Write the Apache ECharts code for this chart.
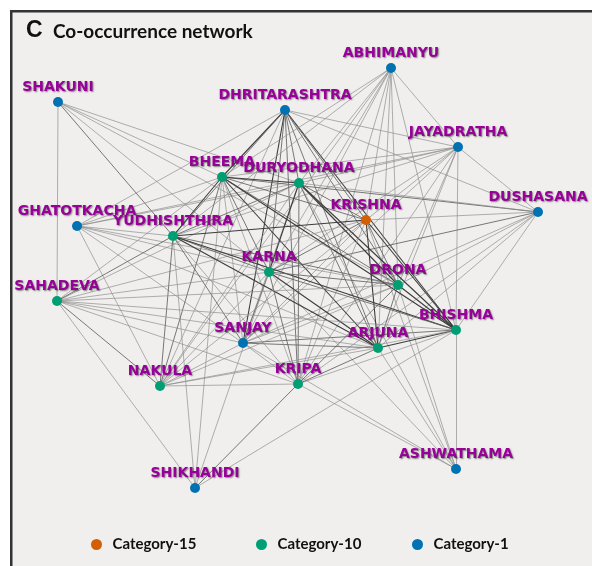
<!DOCTYPE html>
<html>
<head>
<meta charset="utf-8">
<script src="https://cdn.jsdelivr.net/npm/echarts@6/dist/echarts.min.js"></script>
<style>html,body{margin:0;padding:0;background:#fff}#c{width:592px;height:566px}</style>
</head>
<body>
<div id="c"></div>
<script>
// ---- data ----
const categoryNames = ['Category-15', 'Category-10', 'Category-1'];
const categoryColors = ['#d55e00', '#009e73', '#0072b2'];

const nodeNames = ['SHAKUNI','DHRITARASHTRA','ABHIMANYU','JAYADRATHA','DUSHASANA','BHEEMA','DURYODHANA','KRISHNA','GHATOTKACHA','YUDHISHTHIRA','KARNA','DRONA','SAHADEVA','BHISHMA','SANJAY','ARJUNA','NAKULA','KRIPA','ASHWATHAMA','SHIKHANDI'];
const nodeX = [58, 285, 391, 458, 538, 222, 299, 366, 77, 173, 269, 398, 57, 456, 243, 378, 160, 298, 456, 195];
const nodeY = [102, 110, 68, 147, 212, 177, 183, 220, 226, 236, 272, 285, 301, 330, 343, 348, 386, 384, 469, 488];
const nodeCategory = [2, 2, 2, 2, 2, 1, 1, 0, 2, 1, 1, 1, 1, 1, 2, 1, 1, 1, 2, 2];

// [source, target, weight]
const links = [
  ['SHAKUNI','SAHADEVA',1],['SHAKUNI','BHEEMA',1],['SHAKUNI','DURYODHANA',1],['SHAKUNI','YUDHISHTHIRA',2],['SHAKUNI','KARNA',1],['SHAKUNI','DRONA',1],
  ['DHRITARASHTRA','BHEEMA',3],['DHRITARASHTRA','DURYODHANA',2],['DHRITARASHTRA','YUDHISHTHIRA',2],['DHRITARASHTRA','KARNA',2],['DHRITARASHTRA','SANJAY',3],['DHRITARASHTRA','DRONA',2],['DHRITARASHTRA','BHISHMA',3],['DHRITARASHTRA','ARJUNA',2],['DHRITARASHTRA','KRISHNA',2],['DHRITARASHTRA','KRIPA',2],['DHRITARASHTRA','NAKULA',1],['DHRITARASHTRA','GHATOTKACHA',1],['DHRITARASHTRA','JAYADRATHA',1],['DHRITARASHTRA','DUSHASANA',1],
  ['ABHIMANYU','JAYADRATHA',1],['ABHIMANYU','BHEEMA',1],['ABHIMANYU','YUDHISHTHIRA',1],['ABHIMANYU','DURYODHANA',1],['ABHIMANYU','KARNA',1],['ABHIMANYU','SANJAY',1],['ABHIMANYU','ARJUNA',1],['ABHIMANYU','DRONA',1],['ABHIMANYU','KRIPA',1],['ABHIMANYU','KRISHNA',1],['ABHIMANYU','BHISHMA',1],['ABHIMANYU','NAKULA',1],
  ['JAYADRATHA','DUSHASANA',1],['JAYADRATHA','BHISHMA',1],['JAYADRATHA','BHEEMA',1],['JAYADRATHA','YUDHISHTHIRA',1],['JAYADRATHA','DURYODHANA',1],['JAYADRATHA','GHATOTKACHA',1],['JAYADRATHA','KARNA',1],['JAYADRATHA','DRONA',1],['JAYADRATHA','ARJUNA',1],['JAYADRATHA','KRIPA',1],['JAYADRATHA','SANJAY',1],['JAYADRATHA','KRISHNA',1],
  ['DUSHASANA','BHEEMA',2],['DUSHASANA','KRISHNA',1],['DUSHASANA','KARNA',2],['DUSHASANA','DURYODHANA',1],['DUSHASANA','DRONA',1],['DUSHASANA','ARJUNA',1],['DUSHASANA','KRIPA',1],['DUSHASANA','BHISHMA',1],['DUSHASANA','SANJAY',1],
  ['GHATOTKACHA','BHEEMA',1],['GHATOTKACHA','DURYODHANA',1],['GHATOTKACHA','YUDHISHTHIRA',1],['GHATOTKACHA','KARNA',1],['GHATOTKACHA','DRONA',1],['GHATOTKACHA','ARJUNA',1],['GHATOTKACHA','SANJAY',1],['GHATOTKACHA','NAKULA',1],
  ['SANJAY','BHEEMA',1],['SANJAY','YUDHISHTHIRA',2],['SANJAY','DURYODHANA',1],['SANJAY','KARNA',2],['SANJAY','DRONA',1],['SANJAY','ARJUNA',2],['SANJAY','BHISHMA',2],['SANJAY','KRIPA',1],['SANJAY','NAKULA',1],['SANJAY','SAHADEVA',1],['SANJAY','KRISHNA',1],
  ['ASHWATHAMA','BHISHMA',1],['ASHWATHAMA','DRONA',1],['ASHWATHAMA','KRISHNA',1],['ASHWATHAMA','DURYODHANA',1],['ASHWATHAMA','ARJUNA',1],['ASHWATHAMA','KARNA',1],['ASHWATHAMA','SANJAY',1],['ASHWATHAMA','KRIPA',1],
  ['SHIKHANDI','SAHADEVA',1],['SHIKHANDI','YUDHISHTHIRA',1],['SHIKHANDI','BHEEMA',1],['SHIKHANDI','KARNA',1],['SHIKHANDI','KRIPA',2],['SHIKHANDI','BHISHMA',1],
  ['BHEEMA','DURYODHANA',3],['BHEEMA','KRISHNA',2],['BHEEMA','YUDHISHTHIRA',3],['BHEEMA','KARNA',2],['BHEEMA','DRONA',2],['BHEEMA','SAHADEVA',1],['BHEEMA','BHISHMA',3],['BHEEMA','ARJUNA',3],['BHEEMA','NAKULA',2],['BHEEMA','KRIPA',1],
  ['DURYODHANA','KRISHNA',2],['DURYODHANA','YUDHISHTHIRA',2],['DURYODHANA','KARNA',3],['DURYODHANA','DRONA',3],['DURYODHANA','SAHADEVA',1],['DURYODHANA','BHISHMA',3],['DURYODHANA','ARJUNA',2],['DURYODHANA','NAKULA',1],['DURYODHANA','KRIPA',2],
  ['KRISHNA','YUDHISHTHIRA',3],['KRISHNA','KARNA',2],['KRISHNA','DRONA',2],['KRISHNA','SAHADEVA',1],['KRISHNA','BHISHMA',3],['KRISHNA','ARJUNA',3],['KRISHNA','NAKULA',1],['KRISHNA','KRIPA',1],
  ['YUDHISHTHIRA','KARNA',2],['YUDHISHTHIRA','DRONA',2],['YUDHISHTHIRA','SAHADEVA',2],['YUDHISHTHIRA','BHISHMA',3],['YUDHISHTHIRA','ARJUNA',3],['YUDHISHTHIRA','NAKULA',2],['YUDHISHTHIRA','KRIPA',1],
  ['KARNA','DRONA',2],['KARNA','SAHADEVA',1],['KARNA','BHISHMA',2],['KARNA','ARJUNA',3],['KARNA','NAKULA',1],['KARNA','KRIPA',2],
  ['DRONA','SAHADEVA',1],['DRONA','BHISHMA',3],['DRONA','ARJUNA',2],['DRONA','NAKULA',1],['DRONA','KRIPA',2],
  ['SAHADEVA','BHISHMA',1],['SAHADEVA','ARJUNA',1],['SAHADEVA','NAKULA',2],['SAHADEVA','KRIPA',1],
  ['BHISHMA','ARJUNA',3],['BHISHMA','NAKULA',1],['BHISHMA','KRIPA',1],
  ['ARJUNA','NAKULA',1],['ARJUNA','KRIPA',2],
  ['NAKULA','KRIPA',1]
];

// ---- styles ----
const weightStyle = {
  1: {color: '#8c8c8c', width: 0.75, opacity: 0.9},
  2: {color: '#626262', width: 0.9, opacity: 0.95},
  3: {color: '#3c3c3c', width: 1.1, opacity: 1}
};

const chart = echarts.init(document.getElementById('c'), null, {renderer: 'canvas'});

const nodes = nodeNames.map((n, i) => ({name: n, value: [nodeX[i], nodeY[i]], category: nodeCategory[i]}));
const edgeData = links.map(l => ({source: l[0], target: l[1], lineStyle: Object.assign({curveness: 0}, weightStyle[l[2]])}));

const legendLefts = [86, 251, 407];
const legendTextStyle = {fontFamily: 'Lato', fontWeight: 'bold', fontSize: 15, color: '#111'};

chart.setOption({
  animation: false,
  backgroundColor: '#ffffff',
  graphic: [{
    type: 'rect', z: -10, silent: true,
    shape: {x: 11.25, y: 11.25, width: 640, height: 620},
    style: {fill: '#f0efee', stroke: '#333333', lineWidth: 2.5}
  }],
  title: [
    {text: 'C', left: 21, top: 14, padding: 5, textStyle: {fontFamily: 'Liberation Sans', fontWeight: 'bold', fontSize: 23, color: '#111'}},
    {text: 'Co-occurrence network', left: 48, top: 17, padding: 5, textStyle: {fontFamily: 'Lato', fontWeight: 'bold', fontSize: 19, color: '#111'}}
  ],
  legend: categoryNames.map((c, i) => ({
    data: [{name: c, icon: 'circle'}],
    left: legendLefts[i], top: 532, orient: 'horizontal',
    itemWidth: 22, itemHeight: 11, itemGap: 5,
    selectedMode: false,
    textStyle: legendTextStyle
  })),
  grid: {left: 0, right: 0, top: 0, bottom: 0},
  xAxis: {type: 'value', min: 0, max: 592, show: false},
  yAxis: {type: 'value', min: 0, max: 566, inverse: true, show: false},
  series: [{
    type: 'graph',
    coordinateSystem: 'cartesian2d',
    layout: 'none',
    symbol: 'circle',
    symbolSize: 10,
    silent: true,
    categories: categoryNames.map((c, i) => ({name: c, itemStyle: {color: categoryColors[i]}})),
    data: nodes,
    links: edgeData,
    itemStyle: {borderWidth: 0},
    label: {
      show: true, position: 'top', distance: 3,
      formatter: '{b}',
      color: '#990099', fontFamily: 'DejaVu Sans', fontWeight: 'bold', fontSize: 14,
      textShadowColor: 'rgba(40,40,40,0.55)', textShadowBlur: 1.5, textShadowOffsetX: 1, textShadowOffsetY: 1
    },
    emphasis: {disabled: true},
    z: 2
  }]
});
</script>
</body>
</html>
